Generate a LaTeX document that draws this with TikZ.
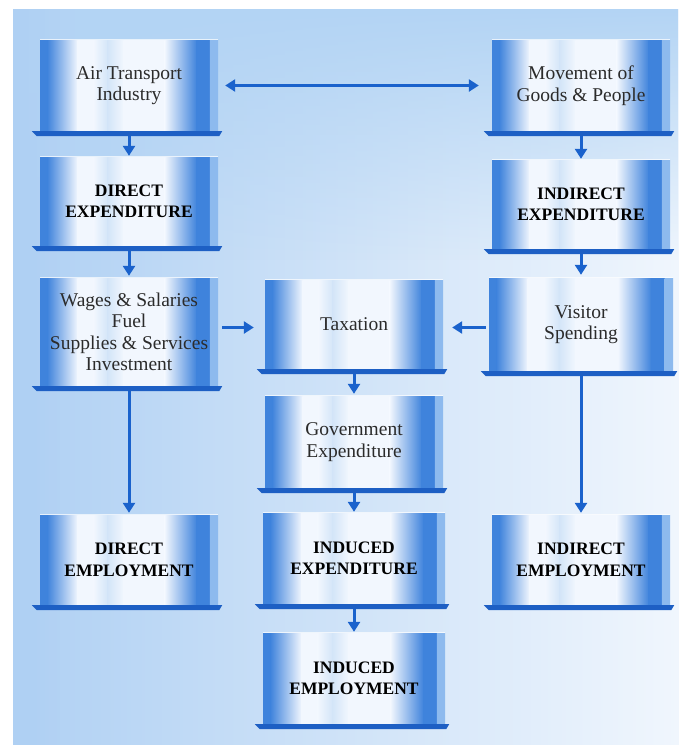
\documentclass[tikz,border=0pt]{standalone}
\usepackage{fontspec}
\setmainfont{Liberation Serif}
\usetikzlibrary{arrows.meta,fadings,calc}
\definecolor{panelL}{HTML}{AFD0F3}
\definecolor{panelR}{HTML}{F0F6FD}
\definecolor{panelT}{HTML}{B3D4F4}
\definecolor{bxE}{HTML}{8DBAEE}
\definecolor{bxD}{HTML}{3F83DC}
\definecolor{bxL}{HTML}{D3E5F8}
\definecolor{bxW}{HTML}{F2F7FE}
\definecolor{barc}{HTML}{1D5FC4}
\definecolor{arrc}{HTML}{1A62CC}
\definecolor{txtc}{HTML}{2B2B2B}
\tikzset{
  box/.style={inner sep=0pt, align=center, text=txtc,
    font=\fontsize{19.5}{21.5}\selectfont,
    path picture={
      \fill[bxL] (path picture bounding box.south west) rectangle (path picture bounding box.north east);
      \foreach \a/\b/\ca/\cb in {0/0.043/bxD/bxD, 0.04/0.213/bxD/bxW, 0.21/0.303/bxW/bxW,
          0.3/0.383/bxW/bxL, 0.38/0.473/bxL/bxW, 0.47/0.703/bxW/bxW, 0.7/0.883/bxW/bxD,
          0.88/0.958/bxD/bxD, 0.955/1/bxE/bxE}{
        \shade[left color=\ca, right color=\cb]
          ($(path picture bounding box.south west)!\a!(path picture bounding box.south east)$)
          rectangle
          ($(path picture bounding box.north west)!\b!(path picture bounding box.north east)$);
      }
    }},
  boldbox/.style={box, text=black, font=\fontsize{17.5}{21.5}\selectfont\bfseries},
  arr/.style={draw=arrc, line width=3pt, -{Triangle[width=12pt,length=10pt]}},
  darr/.style={draw=arrc, line width=3pt, {Triangle[width=12pt,length=10pt]}-{Triangle[width=12pt,length=10pt]}}
}
\begin{document}
\begin{tikzpicture}[x=1pt,y=-1pt]
\useasboundingbox (0,0) rectangle (679,745);
\fill[white] (0,0) rectangle (679,745);
\shade[left color=panelL, right color=panelR] (13,9) rectangle (679,745);
\fill[panelT, path fading=south] (13,9) rectangle (679,260);
\fill[panelL, path fading=east] (13,9) rectangle (60,745);

\node[box, minimum width=178pt, minimum height=91pt] (air) at (129,85.5) {Air Transport\\Industry};
\node[box, minimum width=178pt, minimum height=91pt] (move) at (581,85.5) {Movement of\\Goods \& People};
\node[boldbox, minimum width=178pt, minimum height=89pt] (dexp) at (129,201.5) {DIRECT\\EXPENDITURE};
\node[boldbox, minimum width=178pt, minimum height=89pt] (iexp) at (581,204.5) {INDIRECT\\EXPENDITURE};
\node[box, minimum width=178pt, minimum height=108pt] (wages) at (129,332) {Wages \& Salaries\\Fuel\\Supplies \& Services\\Investment};
\node[box, minimum width=178pt, minimum height=89pt] (tax) at (354,324.5) {Taxation};
\node[box, minimum width=184pt, minimum height=93pt] (visit) at (581,324.5) {Visitor\\Spending};
\node[box, minimum width=178pt, minimum height=92pt] (gov) at (354,442) {Government\\Expenditure};
\node[boldbox, minimum width=178pt, minimum height=90pt] (demp) at (129,560) {DIRECT\\EMPLOYMENT};
\node[boldbox, minimum width=182pt, minimum height=91pt] (indexp) at (354,558.5) {INDUCED\\EXPENDITURE};
\node[boldbox, minimum width=178pt, minimum height=90pt] (iemp) at (581,560) {INDIRECT\\EMPLOYMENT};
\node[boldbox, minimum width=182pt, minimum height=91pt] (indemp) at (354,678.5) {INDUCED\\EMPLOYMENT};

\foreach \n in {air,move,dexp,iexp,wages,tax,visit,gov,demp,indexp,iemp,indemp}{
  \fill[barc] ([xshift=-8pt]\n.south west) -- ([xshift=4pt]\n.south east)
    -- ([xshift=1pt,yshift=-5pt]\n.south east) -- ([xshift=-3pt,yshift=-5pt]\n.south west) -- cycle;
  \draw[white, line width=1pt, opacity=0.7] (\n.north west) -- (\n.north east);
}

\coordinate (tl) at ([yshift=-3pt]tax.west);
\coordinate (tr) at ([yshift=-3pt]tax.east);

\draw[darr, shorten <=7pt, shorten >=13pt] (air.east) -- (move.west);
\draw[arr, shorten >=1pt] ([yshift=-5pt]air.south) -- (dexp.north);
\draw[arr, shorten >=1pt] ([yshift=-5pt]move.south) -- (iexp.north);
\draw[arr, shorten >=2pt] ([yshift=-5pt]dexp.south) -- (wages.north);
\draw[arr, shorten >=3pt] ([yshift=-5pt]iexp.south) -- (visit.north);
\draw[arr, shorten <=4pt, shorten >=11pt] (wages.east |- tl) -- (tl);
\draw[arr, shorten <=3pt, shorten >=9pt] (visit.west |- tr) -- (tr);
\draw[arr, shorten >=2pt] ([yshift=-5pt]tax.south) -- (gov.north);
\draw[arr, shorten >=1pt] ([yshift=-5pt]gov.south) -- (indexp.north);
\draw[arr, shorten >=1pt] ([yshift=-5pt]indexp.south) -- (indemp.north);
\draw[arr, shorten >=2pt] ([yshift=-5pt]wages.south) -- (demp.north);
\draw[arr, shorten >=2pt] ([yshift=-5pt]visit.south) -- (iemp.north);
\end{tikzpicture}
\end{document}
